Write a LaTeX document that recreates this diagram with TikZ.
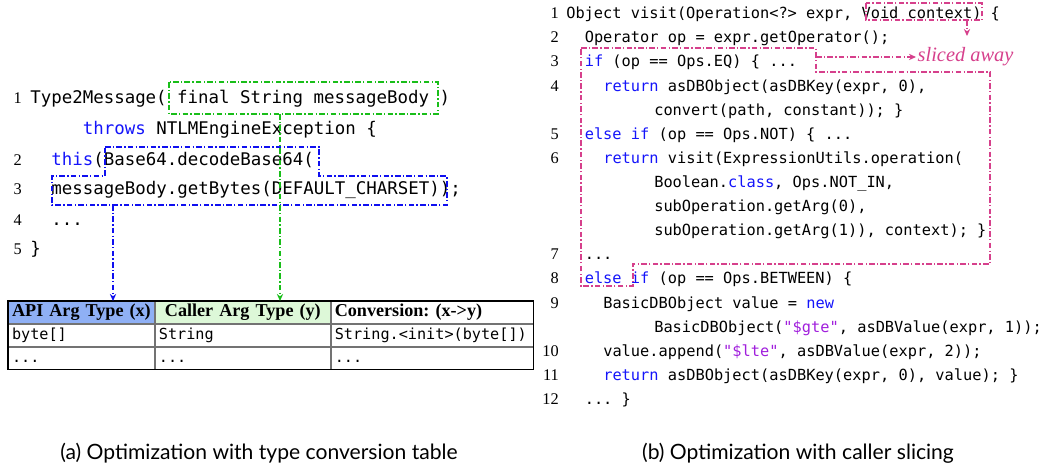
\documentclass[tikz,border=0pt]{standalone}
\usepackage{fontspec}
\setmainfont{Liberation Serif}
\setmonofont{DejaVu Sans Mono}
\newfontfamily\capfont{Lato}
\usetikzlibrary{arrows.meta, positioning}
\frenchspacing

\definecolor{kwblue}{RGB}{20,20,250}
\definecolor{strpurple}{RGB}{160,30,220}
\definecolor{boxblue}{RGB}{15,15,240}
\definecolor{boxgreen}{RGB}{25,190,25}
\definecolor{slicepink}{RGB}{214,64,140}
\definecolor{apiblue}{RGB}{143,176,245}
\definecolor{callergreen}{RGB}{221,248,216}

\newcommand{\kwd}[1]{\textcolor{kwblue}{#1}}
\newcommand{\strg}[1]{\textcolor{strpurple}{#1}}

\begin{document}
\begin{tikzpicture}[
    x=0.025cm, y=-0.025cm,
    lcode/.style={anchor=base west, inner sep=0pt, font=\fontsize{12.4}{15}\selectfont\ttfamily},
    rcode/.style={anchor=base west, inner sep=0pt, font=\fontsize{10.9}{13}\selectfont\ttfamily},
    lnum/.style={anchor=base east, inner sep=0pt, font=\fontsize{11.6}{13}\selectfont},
    dashdot/.style={line width=0.8pt, dash pattern=on 4pt off 1.6pt on 0.9pt off 1.6pt},
    bluebox/.style={dashdot, draw=boxblue},
    greenbox/.style={dashdot, draw=boxgreen},
    pinkbox/.style={dashdot, draw=slicepink},
    tip/.style={-{Stealth[length=5pt, width=4.5pt]}},
    cell/.style={draw=black!55, line width=0.6pt, minimum height=0.55cm, inner xsep=0.09cm, inner ysep=0pt, text height=0.3cm, text depth=0.1cm, anchor=north west},
    hdr/.style={cell, font=\fontsize{12.9}{14}\selectfont\bfseries},
    body/.style={cell, align=left, font=\fontsize{10.8}{12}\selectfont\ttfamily},
    caption/.style={font=\capfont\fontsize{15}{18}\selectfont}
]
\useasboundingbox (0,0) rectangle (1055,473);

% (a) constructor and the conversion table
\node[lnum] (ln1) at (22,104) {1};
\node[lcode] (lc1) at (30,104) {Type2Message( final String messageBody )};
\node[lcode] (lc1b) at (82.7,134.5) {\kwd{throws} NTLMEngineException \{};
\node[lnum] (ln2) at (22,165) {2};
\node[lcode] (lc2) at (51.1,165) {\kwd{this}(Base64.decodeBase64(};
\node[lnum] (ln3) at (22,195) {3};
\node[lcode] (lc3) at (51.1,195) {messageBody.getBytes(DEFAULT\_CHARSET));};
\node[lnum] (ln4) at (22,225) {4};
\node[lcode] (lc4) at (51.1,225) {...};
\node[lnum] (ln5) at (22,254.5) {5};
\node[lcode] (lc5) at (30,254.5) {\}};

\node[hdr, fill=apiblue, text width=3.47cm, align=center] (hx) at (8,301) {API Arg Type (x)};
\node[hdr, fill=callergreen, text width=4.195cm, align=center, right=0pt of hx] (hy) {Caller Arg Type (y)};
\node[hdr, text width=4.87cm, align=left, right=0pt of hy] (hz) {Conversion: (x->y)};
\node[body, text width=3.47cm, below=0pt of hx] (bx1) {byte[]};
\node[body, text width=4.195cm, below=0pt of hy] (by1) {String};
\node[body, text width=4.87cm, below=0pt of hz] (bz1) {String.<init>(byte[])};
\node[body, text width=3.47cm, below=0pt of bx1] (bx2) {...};
\node[body, text width=4.195cm, below=0pt of by1] (by2) {...};
\node[body, text width=4.87cm, below=0pt of bz1] (bz2) {...};
\draw[line width=0.8pt] (hx.north west) rectangle (bz2.south east);

\draw[greenbox] (169,82) rectangle (438,114);
\draw[bluebox] (105,147) -- (319,147) -- (319,176) -- (447,176) -- (447,205)
    -- (52,205) -- (52,176) -- (105,176) -- cycle;
\coordinate (gfoot) at (280,114);
\coordinate (bfoot) at (113,205);
\draw[greenbox, tip] (gfoot) -- (gfoot |- hy.north);
\draw[bluebox, tip] (bfoot) -- (bfoot |- hx.north);

\node[caption] (capa) at (259,453) {(a) Optimization with type conversion table};

% (b) visitor method and the sliced part
\node[lnum] (rn1) at (559,18.8) {1};
\node[rcode] (rc1) at (566,18.8) {Object visit(Operation<?> expr, Void context) \{};
\node[lnum] (rn2) at (559,42.9) {2};
\node[rcode] (rc2) at (584.5,42.9) {Operator op = expr.getOperator();};
\node[lnum] (rn3) at (559,67) {3};
\node[rcode] (rc3) at (584.5,67) {\kwd{if} (op == Ops.EQ) \{ ...};
\node[lnum] (rn4) at (559,91.1) {4};
\node[rcode] (rc4) at (603,91.1) {\kwd{return} asDBObject(asDBKey(expr, 0),};
\node[rcode] (rc4b) at (654,115.2) {convert(path, constant)); \}};
\node[lnum] (rn5) at (559,139.3) {5};
\node[rcode] (rc5) at (584.5,139.3) {\kwd{else if} (op == Ops.NOT) \{ ...};
\node[lnum] (rn6) at (559,163.4) {6};
\node[rcode] (rc6) at (603,163.4) {\kwd{return} visit(ExpressionUtils.operation(};
\node[rcode] (rc6b) at (654,187.5) {Boolean.\kwd{class}, Ops.NOT\_IN,};
\node[rcode] (rc6c) at (654,211.6) {subOperation.getArg(0),};
\node[rcode] (rc6d) at (654,235.7) {subOperation.getArg(1)), context); \}};
\node[lnum] (rn7) at (559,259.8) {7};
\node[rcode] (rc7) at (584.5,259.8) {...};
\node[lnum] (rn8) at (559,283.9) {8};
\node[rcode] (rc8) at (584.5,283.9) {\kwd{else} \kwd{if} (op == Ops.BETWEEN) \{};
\node[lnum] (rn9) at (559,308) {9};
\node[rcode] (rc9) at (603,308) {BasicDBObject value = \kwd{new}};
\node[rcode] (rc9b) at (654,332.1) {BasicDBObject(\strg{"\$gte"}, asDBValue(expr, 1));};
\node[lnum] (rn10) at (559,356.2) {10};
\node[rcode] (rc10) at (603,356.2) {value.append(\strg{"\$lte"}, asDBValue(expr, 2));};
\node[lnum] (rn11) at (559,380.3) {11};
\node[rcode] (rc11) at (603,380.3) {\kwd{return} asDBObject(asDBKey(expr, 0), value); \}};
\node[lnum] (rn12) at (559,404.4) {12};
\node[rcode] (rc12) at (584.5,404.4) {... \}};

\draw[pinkbox] (866,3) rectangle (982,20);
\draw[pinkbox] (581,48) -- (816,48) -- (816,72) -- (990,72) -- (990,264)
    -- (633,264) -- (633,286) -- (581,286) -- cycle;
\node[anchor=west, inner sep=1pt, text=slicepink, font=\fontsize{14.5}{16}\selectfont\itshape] (sliced) at (916,57) {sliced away};
\coordinate (notch) at (816,57);
\coordinate (vfoot) at (967,20);
\coordinate (vtip) at (967,36);
\draw[pinkbox, tip] (notch) -- (sliced.west);
\draw[pinkbox, tip] (vfoot) -- (vtip);

\node[caption] (capb) at (798,453) {(b) Optimization with caller slicing};
\end{tikzpicture}
\end{document}
